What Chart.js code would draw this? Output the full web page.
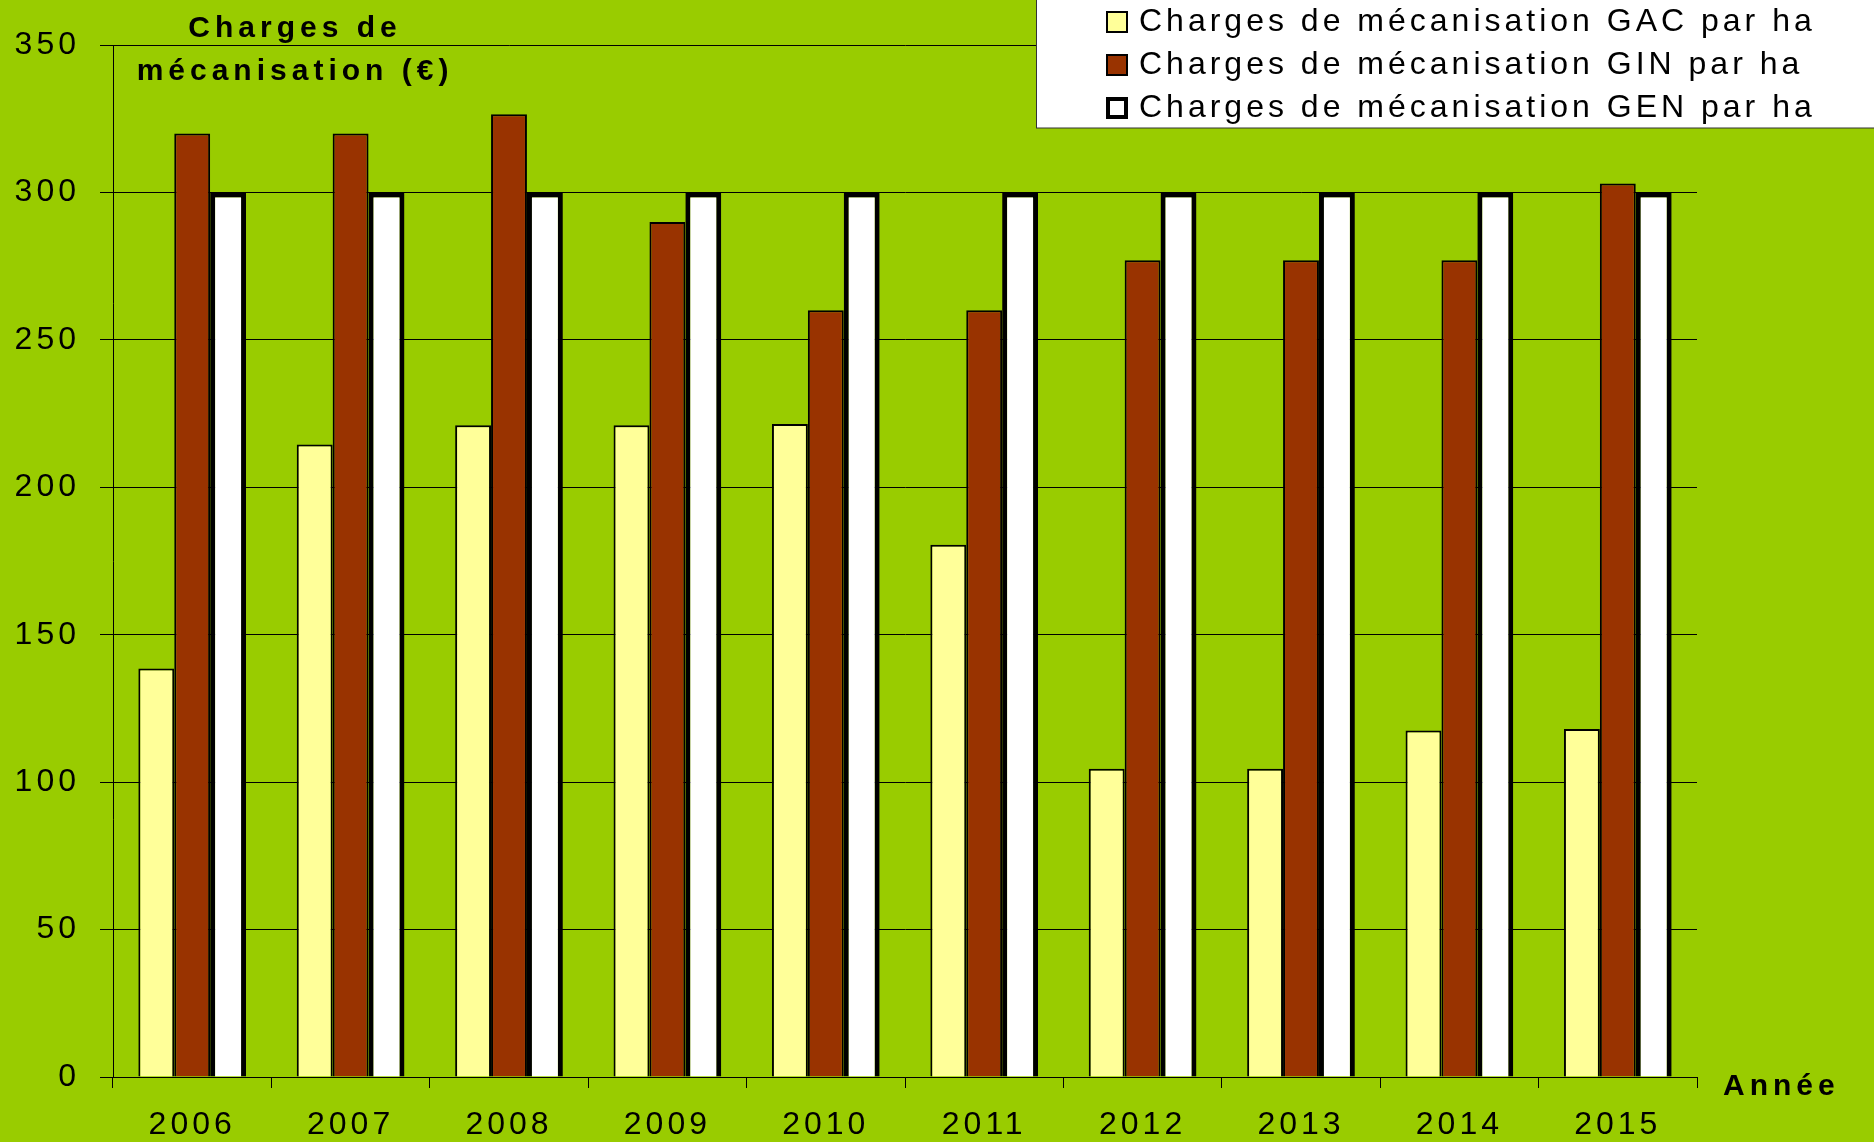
<!DOCTYPE html>
<html>
<head>
<meta charset="utf-8">
<script src="https://cdn.jsdelivr.net/npm/chart.js@4.4.1/dist/chart.umd.min.js"></script>
<style>
    body { margin: 0; background: #99cc00; }
    canvas { display: block; }
</style>
</head>
<body>
<canvas id="chargesChart" width="1874" height="1142"></canvas>
<script>
const annees = ['2006', '2007', '2008', '2009', '2010', '2011', '2012', '2013', '2014', '2015'];
const chargesGAC = [138.5, 214.5, 221, 221, 221.5, 180.5, 104.5, 104.5, 117.5, 118];
const chargesGIN = [320, 320, 326.5, 290, 260, 260, 277, 277, 277, 303];
const chargesGEN = [300, 300, 300, 300, 300, 300, 300, 300, 300, 300];
const ticksY = [0, 50, 100, 150, 200, 250, 300, 350];

const titreAxeY = ['Charges de', 'mécanisation (€)'];
const titreAxeX = 'Année';

const police = '"Liberation Sans", Arial, sans-serif';

// fond vert + espacement des lettres
const fondPlugin = {
    id: 'fond',
    beforeDraw(chart) {
        const ctx = chart.ctx;
        ctx.save();
        ctx.fillStyle = '#99cc00';
        ctx.fillRect(0, 0, chart.width, chart.height);
        ctx.restore();
        ctx.letterSpacing = '4px';
    }
};

// titres des axes et légende encadrée
const textesPlugin = {
    id: 'textes',
    afterDraw(chart) {
        const ctx = chart.ctx;
        ctx.save();
        ctx.fillStyle = '#000';
        ctx.textAlign = 'center';
        ctx.textBaseline = 'alphabetic';
        ctx.font = 'bold 30px ' + police;
        ctx.letterSpacing = '5px';
        ctx.fillText(titreAxeY[0], 295, 37);
        ctx.fillText(titreAxeY[1], 295, 80);

        ctx.font = 'bold 30px ' + police;
        ctx.letterSpacing = '5px';
        ctx.textAlign = 'left';
        ctx.fillText(titreAxeX, 1723, 1095);

        // légende
        ctx.fillStyle = '#fff';
        ctx.fillRect(1036, -2, 900, 130);
        ctx.strokeStyle = '#333';
        ctx.lineWidth = 1;
        ctx.strokeRect(1036.5, -2, 900, 130);

        ctx.font = '32px ' + police;
        ctx.letterSpacing = '4px';
        ctx.textBaseline = 'middle';
        chart.data.datasets.forEach((ds, i) => {
            const y = 22 + i * 43;
            const bw = ds.legendBorder;
            ctx.fillStyle = '#000';
            ctx.fillRect(1106, y - 11, 22, 22);
            ctx.fillStyle = ds.backgroundColor;
            ctx.fillRect(1106 + bw, y - 11 + bw, 22 - 2 * bw, 22 - 2 * bw);
            ctx.fillStyle = '#000';
            ctx.fillText(ds.label, 1139, y);
        });
        ctx.restore();
    }
};

const ctx = document.getElementById('chargesChart').getContext('2d');
new Chart(ctx, {
    type: 'bar',
    data: {
        labels: annees,
        datasets: [{
            label: 'Charges de mécanisation GAC par ha',
            data: chargesGAC,
            backgroundColor: '#ffff99',
            borderColor: '#000',
            borderWidth: 2,
            legendBorder: 2
        }, {
            label: 'Charges de mécanisation GIN par ha',
            data: chargesGIN,
            backgroundColor: '#993300',
            borderColor: '#000',
            borderWidth: 2,
            legendBorder: 2
        }, {
            label: 'Charges de mécanisation GEN par ha',
            data: chargesGEN,
            backgroundColor: '#ffffff',
            borderColor: '#000',
            borderWidth: 5,
            legendBorder: 4
        }]
    },
    options: {
        responsive: false,
        animation: false,
        layout: {
            padding: { top: 45, right: 177, left: 0, bottom: 0 }
        },
        datasets: {
            bar: {
                categoryPercentage: 0.68,
                barPercentage: 1
            }
        },
        plugins: {
            legend: { display: false },
            tooltip: { enabled: false }
        },
        scales: {
            x: {
                grid: {
                    display: true,
                    drawOnChartArea: false,
                    drawTicks: true,
                    tickLength: 11,
                    color: '#000',
                    lineWidth: 1
                },
                border: { display: true, color: '#000', width: 1 },
                ticks: {
                    color: '#000',
                    padding: 18,
                    font: { family: police, size: 32 },
                    maxRotation: 0
                },
                afterFit(scale) { scale.height = 65; }
            },
            y: {
                min: 0,
                max: 350,
                afterBuildTicks(scale) {
                    scale.ticks = ticksY.map(v => ({ value: v }));
                },
                grid: {
                    color: '#000',
                    lineWidth: 1,
                    tickLength: 13
                },
                border: { display: true, color: '#000', width: 1 },
                ticks: {
                    color: '#000',
                    padding: 20,
                    font: { family: police, size: 32 }
                },
                afterFit(scale) { scale.width = 113; }
            }
        }
    },
    plugins: [fondPlugin, textesPlugin]
});
</script>
</body>
</html>
